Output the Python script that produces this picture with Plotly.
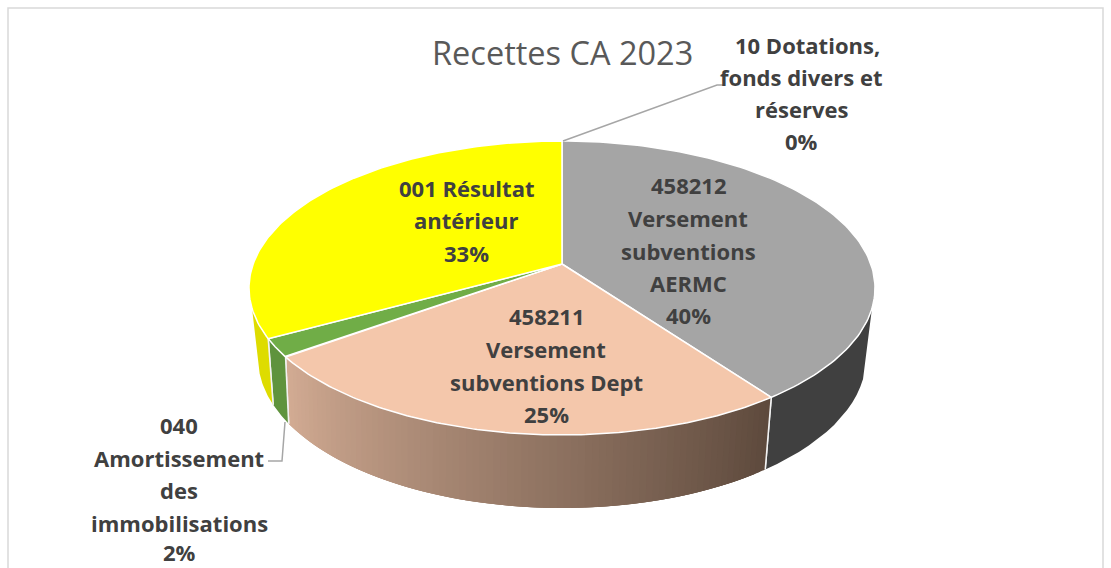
import numpy as np
import plotly.graph_objects as go

# ---- data ----
categories = ["458212 Versement subventions AERMC", "458211 Versement subventions Dept",
              "040 Amortissement des immobilisations", "001 Résultat antérieur",
              "10 Dotations, fonds divers et réserves"]
shares = [40, 25, 2, 33, 0]
top_colors = ["#A5A5A5", "#F4C7AB", "#70AD47", "#FFFF00", "#4472C4"]
wall_colors = [("#404040", "#404040"), ("#D2AB93", "#5E4A3D"), ("#5F933D", "#5F933D"),
               ("#DEDC00", "#DEDC00"), ("#4472C4", "#4472C4")]
title_text = "Recettes CA 2023"
label_lines = [
    (["10 Dotations,", "fonds divers et", "réserves", "0%"], [807, 801, 801, 801], [45, 77, 109, 141]),
    (["458212", "Versement", "subventions", "AERMC", "40%"], [688] * 5, [185, 218, 251, 283, 315]),
    (["001 Résultat", "antérieur", "33%"], [466] * 3, [188, 220, 253]),
    (["458211", "Versement", "subventions Dept", "25%"], [546] * 4, [316, 349, 382, 414]),
    (["040", "Amortissement", "des", "immobilisations", "2%"], [179] * 5, [425, 458, 490, 523, 552]),
]
leaders = [([563, 717, 725], [141, 85, 85]), ([285, 282, 268], [422, 461, 461])]

# ---- projection of the pie (tilt and perspective) ----
CX, CY_TOP, A_TOP, B_TOP, APEX_Y = 562, 288, 313, 147, 264
CY_BOT, A_BOT, B_BOT = 358, 304, 150
K = 1.18
SIL_R, SIL_L = 98, 262  # wall silhouette angles


def proj(deg):
    phi = np.radians(np.asarray(deg, float) - 180)
    return 180 + np.degrees(2 * np.arctan(K * np.tan(phi / 2)))


def top(t):
    r = np.radians(t)
    return CX + A_TOP * np.sin(r), CY_TOP - B_TOP * np.cos(r)


def bot(t):
    t = np.asarray(t, float)
    r = np.radians(t + 2 * np.clip((t - 180) / 60, 0, 1))
    return CX + A_BOT * np.sin(r), CY_BOT - B_BOT * np.cos(r)


def mix(c1, c2, f):
    a = [int(c1[i:i + 2], 16) for i in (1, 3, 5)]
    b = [int(c2[i:i + 2], 16) for i in (1, 3, 5)]
    return "rgb(%d,%d,%d)" % tuple(round(x + (y - x) * f) for x, y in zip(a, b))


fig = go.Figure()


def poly(xs, ys, fill, line, width):
    fig.add_trace(go.Scatter(x=list(xs), y=list(ys), mode="lines", fill="toself", fillcolor=fill,
                             line=dict(color=line, width=width), hoverinfo="skip", showlegend=False))


edges = proj(np.cumsum([0] + shares) * 3.6)
# side walls
for i in range(len(shares)):
    t0, t1 = max(edges[i], SIL_R), min(edges[i + 1], SIL_L)
    if t1 <= t0:
        continue
    c0, c1 = wall_colors[i]
    steps = 80 if c0 != c1 else 1
    sub = np.linspace(t0, t1, steps + 1)
    for j in range(steps):
        # each strip overlaps the next one so that no seams show
        end = sub[min(j + 3, steps)]
        ts = np.linspace(sub[j], end, 14 if steps == 1 else 5)
        tx, ty = top(ts)
        bx, by = bot(ts[::-1])
        col = mix(c0, c1, 1 - j / max(steps - 1, 1)) if steps > 1 else c0
        poly(np.r_[tx, bx, tx[0]], np.r_[ty, by, ty[0]], col, "rgba(0,0,0,0)", 0)
    # white seams between walls
    for t in (t0, t1):
        if SIL_R < t < SIL_L:
            a, b = top(t), bot(t)
            fig.add_trace(go.Scatter(x=[a[0], b[0]], y=[a[1], b[1]], mode="lines",
                                     line=dict(color="#F2F2F2", width=1.5),
                                     hoverinfo="skip", showlegend=False))
# top faces
for i in range(len(shares)):
    if shares[i] == 0:
        continue
    ts = np.linspace(edges[i], edges[i + 1], 120)
    x, y = top(ts)
    poly(np.r_[CX, x, CX], np.r_[APEX_Y, y, APEX_Y], top_colors[i], "#FFFFFF", 1.5)
# leader lines
for lx, ly in leaders:
    fig.add_trace(go.Scatter(x=lx, y=ly, mode="lines", line=dict(color="#A6A6A6", width=1.5),
                             hoverinfo="skip", showlegend=False))

ann = [dict(x=562, y=52, text=title_text, showarrow=False, xref="x", yref="y",
            font=dict(family="Open Sans", size=32.5, color="#595959"))]
for lines, xs, ys in label_lines:
    for s, x, y in zip(lines, xs, ys):
        ann.append(dict(x=x, y=y, text="<b>%s</b>" % s, showarrow=False, xref="x", yref="y",
                        font=dict(family="Open Sans", size=22, color="#404040")))

fig.update_layout(
    width=1111, height=568, margin=dict(l=0, r=0, t=0, b=0),
    paper_bgcolor="white", plot_bgcolor="white", annotations=ann,
    xaxis=dict(range=[0, 1111], visible=False, fixedrange=True),
    yaxis=dict(range=[568, 0], visible=False, fixedrange=True),
    shapes=[dict(type="rect", xref="x", yref="y", x0=8, y0=8, x1=1103, y1=640,
                 line=dict(color="#D9D9D9", width=1.5), layer="below")],
)
fig.write_html("out.html", config=dict(displayModeBar=False),
               post_script="document.body.style.margin='0';document.body.style.overflow='hidden';")
